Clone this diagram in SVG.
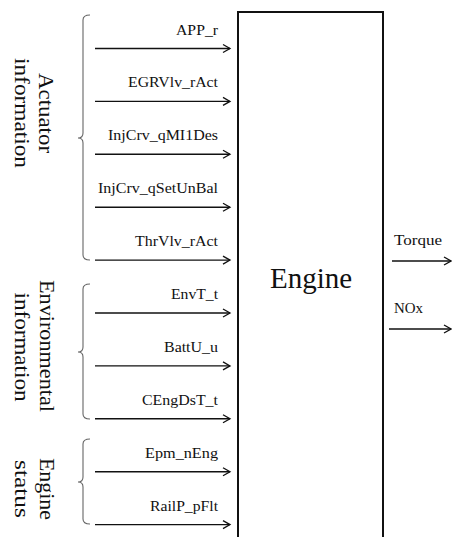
<svg xmlns="http://www.w3.org/2000/svg" width="452" height="537" viewBox="0 0 452 537">
<style>
.lbl{font-family:"Liberation Serif","Times New Roman",serif;font-size:15px;fill:#111;text-anchor:end}
.big{font-family:"Liberation Serif","Times New Roman",serif;font-size:22px;fill:#111;text-anchor:middle}
.arr{stroke:#111;stroke-width:1.4;fill:none;marker-end:url(#ah)}
.br{stroke:#666;stroke-width:1.1;fill:none}
</style>
<defs>
<marker id="ah" markerWidth="12" markerHeight="12" refX="9" refY="5" orient="auto" markerUnits="userSpaceOnUse" viewBox="0 0 12 10">
<path d="M2,1 L9,5 L2,9" fill="none" stroke="#111" stroke-width="1.3"/>
</marker>
</defs>
<rect width="452" height="537" fill="#fff"/>
<g id="engine">
<path d="M238,545 V12 H383 V545" fill="none" stroke="#111" stroke-width="2"/>
<text x="311" y="288" style="font-family:'Liberation Serif','Times New Roman',serif;font-size:29px;fill:#111;text-anchor:middle">Engine</text>
</g>
<g id="group-actuator">
<path class="br" d="M90,15 Q83,15 83,20 V133 Q83,138 78,138 Q83,138 83,143 V255 Q83,260 90,260"/>
<text class="big" transform="translate(39,113) rotate(90)" textLength="80" lengthAdjust="spacingAndGlyphs">Actuator</text>
<text class="big" transform="translate(15,113) rotate(90)" textLength="110" lengthAdjust="spacingAndGlyphs">information</text>
</g>
<g id="group-environmental">
<path class="br" d="M90,284 Q83,284 83,289 V347 Q83,352 78,352 Q83,352 83,357 V414 Q83,419 90,419"/>
<text class="big" transform="translate(40,346) rotate(90)" textLength="132" lengthAdjust="spacingAndGlyphs">Environmental</text>
<text class="big" transform="translate(15,347) rotate(90)" textLength="109" lengthAdjust="spacingAndGlyphs">information</text>
</g>
<g id="group-status">
<path class="br" d="M90,439 Q83,439 83,444 V477 Q83,482 78,482 Q83,482 83,487 V519 Q83,524 90,524"/>
<text class="big" transform="translate(40,489) rotate(90)" textLength="62" lengthAdjust="spacingAndGlyphs">Engine</text>
<text class="big" transform="translate(15,489) rotate(90)" textLength="58" lengthAdjust="spacingAndGlyphs">status</text>
</g>
<g id="labels">
<text class="lbl" x="218" y="34.5" textLength="42" lengthAdjust="spacingAndGlyphs">APP_r</text>
<text class="lbl" x="218" y="87.4" textLength="90" lengthAdjust="spacingAndGlyphs">EGRVlv_rAct</text>
<text class="lbl" x="218" y="140.3" textLength="110" lengthAdjust="spacingAndGlyphs">InjCrv_qMI1Des</text>
<text class="lbl" x="218" y="193.2" textLength="120" lengthAdjust="spacingAndGlyphs">InjCrv_qSetUnBal</text>
<text class="lbl" x="218" y="246.1" textLength="83" lengthAdjust="spacingAndGlyphs">ThrVlv_rAct</text>
<text class="lbl" x="218" y="299" textLength="47" lengthAdjust="spacingAndGlyphs">EnvT_t</text>
<text class="lbl" x="218" y="351.9" textLength="54" lengthAdjust="spacingAndGlyphs">BattU_u</text>
<text class="lbl" x="218" y="404.8" textLength="76" lengthAdjust="spacingAndGlyphs">CEngDsT_t</text>
<text class="lbl" x="218" y="457.7" textLength="73" lengthAdjust="spacingAndGlyphs">Epm_nEng</text>
<text class="lbl" x="218" y="510.6" textLength="68" lengthAdjust="spacingAndGlyphs">RailP_pFlt</text>
<text class="lbl" x="394" y="245" style="text-anchor:start" textLength="48" lengthAdjust="spacingAndGlyphs">Torque</text>
<text class="lbl" x="394" y="313" style="text-anchor:start" textLength="29" lengthAdjust="spacingAndGlyphs">NOx</text>
</g>
<g id="connectors">
<line class="arr" x1="95" y1="48.5" x2="230" y2="48.5"/>
<line class="arr" x1="95" y1="101.4" x2="230" y2="101.4"/>
<line class="arr" x1="95" y1="154.3" x2="230" y2="154.3"/>
<line class="arr" x1="95" y1="207.2" x2="230" y2="207.2"/>
<line class="arr" x1="95" y1="260.1" x2="230" y2="260.1"/>
<line class="arr" x1="95" y1="313" x2="230" y2="313"/>
<line class="arr" x1="95" y1="365.9" x2="230" y2="365.9"/>
<line class="arr" x1="95" y1="418.8" x2="230" y2="418.8"/>
<line class="arr" x1="95" y1="471.7" x2="230" y2="471.7"/>
<line class="arr" x1="95" y1="524.6" x2="230" y2="524.6"/>
<line class="arr" x1="392" y1="261" x2="451" y2="261"/>
<line class="arr" x1="389" y1="329" x2="451" y2="329"/>
</g>
</svg>
